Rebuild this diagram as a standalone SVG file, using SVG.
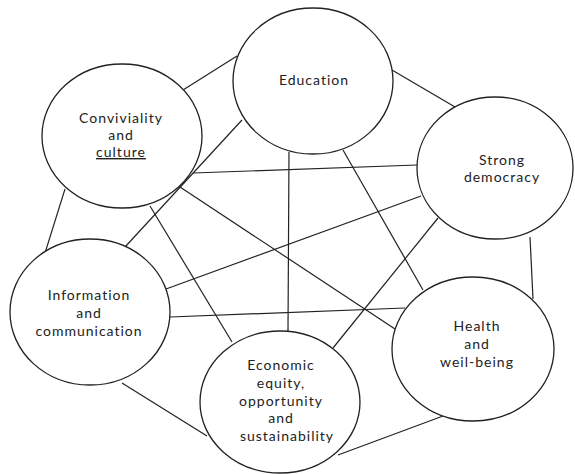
<svg xmlns="http://www.w3.org/2000/svg" width="575" height="474" viewBox="0 0 575 474">
<style>
.n{fill:#fff;stroke:#222;stroke-width:1.3}
.c line{stroke:#222;stroke-width:1.2}
text{font-family:"Lato","Open Sans","DejaVu Sans",sans-serif;font-size:14px;fill:#222;text-anchor:middle;letter-spacing:1px}
</style>
<rect width="575" height="474" fill="#fff"/>
<g id="connectors" class="c">
<line x1="183" y1="90" x2="237" y2="56"/>
<line x1="392" y1="70" x2="455" y2="107"/>
<line x1="193" y1="173" x2="417" y2="165"/>
<line x1="242" y1="120" x2="125" y2="247"/>
<line x1="65" y1="189" x2="45" y2="253"/>
<line x1="150" y1="206" x2="232" y2="342"/>
<line x1="180" y1="187" x2="395" y2="329"/>
<line x1="289" y1="152" x2="288" y2="331"/>
<line x1="343" y1="150" x2="423" y2="290"/>
<line x1="421" y1="196" x2="166" y2="289"/>
<line x1="438" y1="218" x2="333" y2="348"/>
<line x1="170" y1="317" x2="405" y2="308"/>
<line x1="530" y1="237" x2="533" y2="299"/>
<line x1="122" y1="383" x2="207" y2="436"/>
<line x1="338" y1="455" x2="443" y2="416"/>
</g>
<g id="education">
<ellipse class="n" cx="313" cy="81" rx="80" ry="73"/>
<text x="314" y="85">Education</text>
</g>
<g id="conviviality">
<ellipse class="n" cx="122" cy="136" rx="80" ry="72"/>
<text x="121" y="123">Conviviality</text>
<text x="121" y="140">and</text>
<text x="121" y="157" text-decoration="underline">culture</text>
</g>
<g id="strong-democracy">
<ellipse class="n" cx="495" cy="168" rx="78" ry="71"/>
<text x="502" y="165">Strong</text>
<text x="502" y="182">democracy</text>
</g>
<g id="information">
<ellipse class="n" cx="90" cy="312" rx="80" ry="73"/>
<text x="89" y="300">Information</text>
<text x="89" y="318">and</text>
<text x="89" y="336">communication</text>
</g>
<g id="economic">
<ellipse class="n" cx="280" cy="402" rx="80" ry="71"/>
<text x="281" y="370">Economic</text>
<text x="281" y="388">equity,</text>
<text x="281" y="406">opportunity</text>
<text x="281" y="423">and</text>
<text x="287" y="441">sustainability</text>
</g>
<g id="health">
<ellipse class="n" cx="473" cy="349" rx="81" ry="72"/>
<text x="477" y="331">Health</text>
<text x="477" y="349">and</text>
<text x="477" y="367">weil-being</text>
</g>
</svg>
